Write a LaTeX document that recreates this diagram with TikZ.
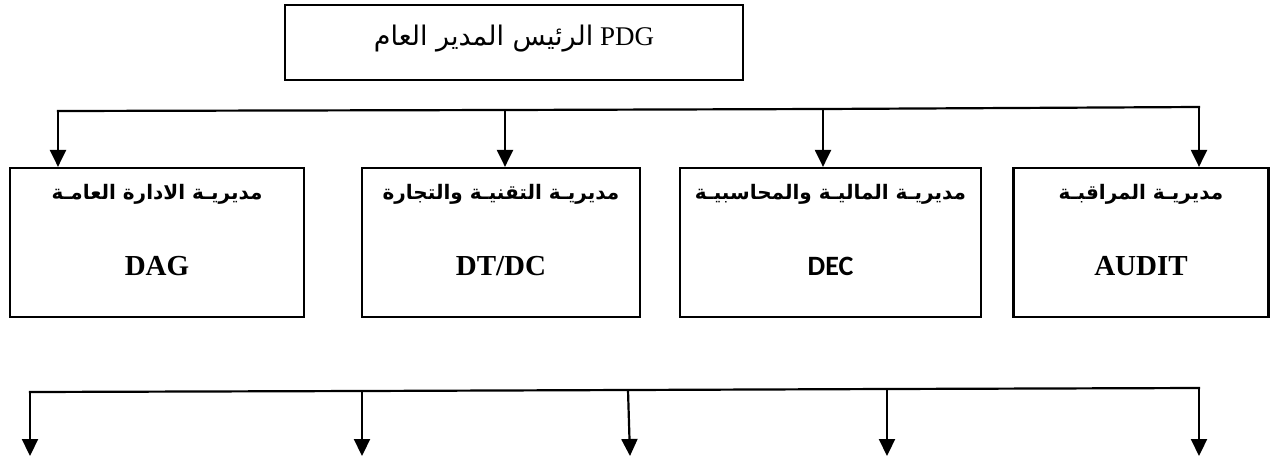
\documentclass[tikz,border=0pt]{standalone}
\usepackage{fontspec}
\setmainfont{Liberation Serif}
\newfontfamily\arabicfont[Script=Arabic]{DejaVu Sans}
\newfontfamily\decfont{Carlito}
\TeXXeTstate=1
\usetikzlibrary{arrows.meta}

\begin{document}
\begin{tikzpicture}[x=1pt,y=-1pt,
  frame/.style={draw, line width=2.2pt, inner sep=0pt},
  wire/.style={line width=2.2pt},
  arr/.style={line width=2.2pt, -{Triangle[width=16pt,length=17pt]}},
  artitle/.style={font=\arabicfont\bfseries\fontsize{20}{23}\selectfont},
  code/.style={font=\bfseries\fontsize{29}{32}\selectfont}]
\useasboundingbox (0,0) rectangle (1274,461);

% general manager
\node[frame, minimum width=458pt, minimum height=75pt] (pdg) at (514,42.5) {};
\node (pdgtext) at (514,39)
  {\fontsize{27}{31}\selectfont{\arabicfont\beginR الرئيس المدير العام\endR} PDG};

% directorates
\node[frame, minimum width=294pt, minimum height=149pt] (dag)   at (157,242.5) {};
\node[frame, minimum width=278pt, minimum height=149pt] (dtdc)  at (501,242.5) {};
\node[frame, minimum width=301pt, minimum height=149pt] (dec)   at (830.5,242.5) {};
\node[frame, minimum width=255pt, minimum height=149pt] (audit) at (1141,242.5) {};

\node[artitle] (dagar)   at (157,194)   {\beginR مديريـة الادارة العامـة\endR};
\node[artitle] (dtdcar)  at (501,194)   {\beginR مديريـة التقنيـة والتجارة\endR};
\node[artitle] (decar)   at (830.5,194) {\beginR مديريـة الماليـة والمحاسبيـة\endR};
\node[artitle] (auditar) at (1141,194)  {\beginR مديريـة المراقبـة\endR};

\node[code] (daglat)   at (157,266)   {DAG};
\node[code] (dtdclat)  at (501,266)   {DT/DC};
\node[font=\decfont\bfseries\fontsize{28}{32}\selectfont] (declat) at (830.5,266) {DEC};
\node[code] (auditlat) at (1141,266)  {AUDIT};

% upper distribution line
\coordinate (u1) at (58,111);
\coordinate (u2) at (505,110);
\coordinate (u3) at (823,109);
\coordinate (u4) at (1199,107);
\draw[wire, line cap=rect] (u1) -- (u2) -- (u3) -- (u4);
\draw[arr] (u1) -- (u1 |- dag.north);
\draw[arr] (u2) -- (u2 |- dtdc.north);
\draw[arr] (u3) -- (u3 |- dec.north);
\draw[arr] (u4) -- (u4 |- audit.north);

% lower distribution line
\coordinate (l1) at (30,392);
\coordinate (l2) at (362,391);
\coordinate (l3) at (628,390);
\coordinate (l4) at (887,389);
\coordinate (l5) at (1199,388);
\coordinate (e1) at (30,456);
\coordinate (e2) at (362,456);
\coordinate (e3) at (630,456);
\coordinate (e4) at (887,456);
\coordinate (e5) at (1199,456);
\draw[wire, line cap=rect] (l1) -- (l2) -- (l3) -- (l4) -- (l5);
\draw[arr] (l1) -- (e1);
\draw[arr] (l2) -- (e2);
\draw[arr] (l3) -- (e3);
\draw[arr] (l4) -- (e4);
\draw[arr] (l5) -- (e5);
\end{tikzpicture}
\end{document}
